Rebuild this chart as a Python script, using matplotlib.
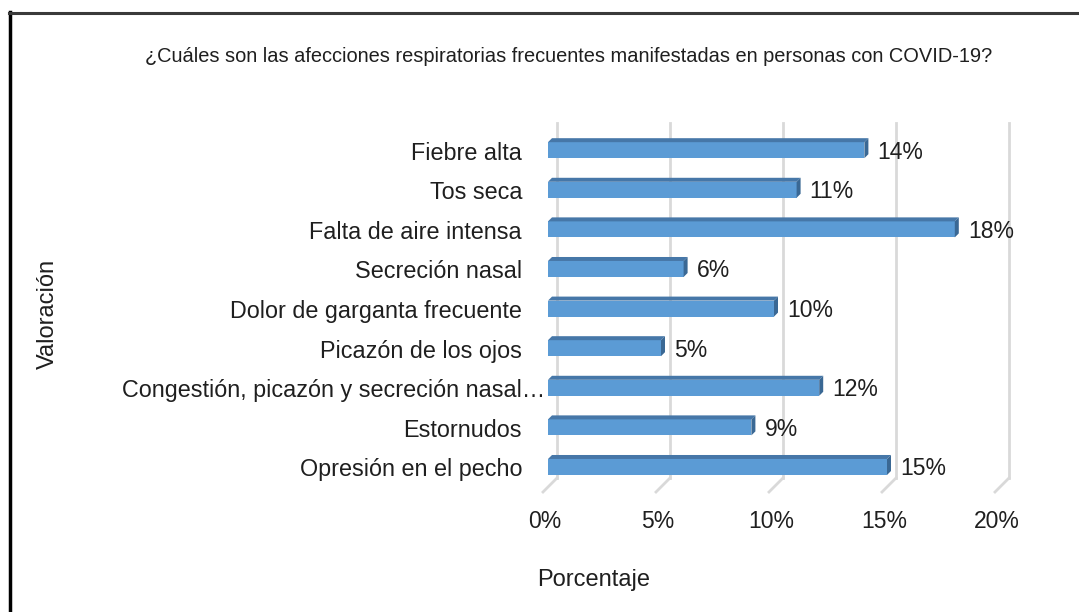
import matplotlib
matplotlib.use('Agg')
import matplotlib.pyplot as plt
from matplotlib.patches import Polygon
from matplotlib.lines import Line2D
import matplotlib.transforms as mtransforms
from matplotlib import font_manager

categories = ["Fiebre alta", "Tos seca", "Falta de aire intensa", "Secreción nasal",
              "Dolor de garganta frecuente", "Picazón de los ojos",
              "Congestión, picazón y secreción nasal…", "Estornudos",
              "Opresión en el pecho"]
values = [14, 11, 18, 6, 10, 5, 12, 9, 15]
ticks = [0, 5, 10, 15, 20]
tick_labels = ['0%', '5%', '10%', '15%', '20%']
title = "¿Cuáles son las afecciones respiratorias frecuentes manifestadas en personas con COVID-19?"
xlabel = "Porcentaje"
ylabel = "Valoración"

names = {f.name for f in font_manager.fontManager.ttflist}
NARROW = 'Liberation Sans Narrow' if 'Liberation Sans Narrow' in names else None
BASE = 'Liberation Sans'

W, H = 1079, 612
DPI = 100
fig = plt.figure(figsize=(W / DPI, H / DPI), dpi=DPI)

# layout (pixels)
x_left_px, x_right_px = 548, 1000
PX_Y = 39.6
y0_px = 149
ylim_top, ylim_bot = -1.0, 9.0
top_px = y0_px + PX_Y * ylim_top
bot_px = y0_px + PX_Y * ylim_bot
ax = fig.add_axes([x_left_px / W, 1 - bot_px / H,
                   (x_right_px - x_left_px) / W, (bot_px - top_px) / H])
ax.set_xlim(ticks[0], ticks[-1])
ax.set_ylim(ylim_bot, ylim_top)
ax.axis('off')
PX_X = (x_right_px - x_left_px) / (ticks[-1] - ticks[0])

def off(dx_px, dy_px=0):
    return ax.transData + mtransforms.ScaledTranslation(dx_px / DPI, -dy_px / DPI, fig.dpi_scale_trans)

# gridlines (back wall) + floor diagonals
g_top = (123 - y0_px) / PX_Y
g_bot = (478 - y0_px) / PX_Y
gtrans = off(9)
grid_c = '#d9d9d9'
for t in ticks:
    ax.plot([t, t], [g_top, g_bot], color=grid_c, lw=2, transform=gtrans, clip_on=False, zorder=1)
    ax.plot([t, t - 14 / PX_X], [g_bot, g_bot + 14 / PX_Y], color=grid_c, lw=2,
            transform=gtrans, clip_on=False, zorder=1)

# 3D bars
face_c = '#5B9BD5'
top_c = '#4677A8'
side_c = '#3A6894'
bh = 16 / PX_Y
dx = 4 / PX_X
dy = 4 / PX_Y
ypos = [i + 0.03 for i in range(len(categories))]
ax.barh(ypos, values, height=bh, color=face_c, zorder=3, linewidth=0)
TXT = '#1f1f1f'
for y, v in zip(ypos, values):
    top = y - bh / 2
    bot = y + bh / 2
    ax.add_patch(Polygon([(0, top), (dx, top - dy), (v + dx, top - dy), (v, top)],
                         closed=True, facecolor=top_c, edgecolor='none', zorder=3))
    ax.add_patch(Polygon([(v, top), (v + dx, top - dy), (v + dx, bot - dy), (v, bot)],
                         closed=True, facecolor=side_c, edgecolor='none', zorder=3))
    ax.text(v, y, f'{v}%', transform=off(13, 2), ha='left', va='center',
            fontsize=16.5, family=BASE, color=TXT, zorder=4)

# category labels (truncated label overhangs to the right, as in the original)
for y, c in zip(ypos, categories):
    shift = -3 if c.endswith('…') else -26
    ax.text(0, y, c, transform=off(shift, 3), ha='right', va='center',
            fontsize=16.8, family=BASE, color=TXT)

# tick labels
ty = (520 - y0_px) / PX_Y
for t, lab in zip(ticks, tick_labels):
    ax.text(t, ty, lab, transform=off(-3, 2), ha='center', va='center',
            fontsize=16.5, family=BASE, color=TXT)

# titles
tfam = NARROW or BASE
tsz = 13 if NARROW else 14.4
fig.text(569 / W, 1 - 57 / H, title, ha='center', va='center',
         fontsize=tsz, family=tfam, color=TXT)
fig.text(594 / W, 1 - 580 / H, xlabel, ha='center', va='center',
         fontsize=20 if NARROW else 17, family=tfam, color=TXT)
fig.text(48 / W, 1 - 314 / H, ylabel, ha='center', va='center', rotation=90,
         fontsize=20 if NARROW else 17, family=tfam, color=TXT)

# frame lines
fig.add_artist(Line2D([10 / W, 10 / W], [0, 1 - 12 / H], transform=fig.transFigure,
                      color='black', lw=2.5))
fig.add_artist(Line2D([9 / W, 1], [1 - 13 / H, 1 - 13 / H], transform=fig.transFigure,
                      color='#3a3a3a', lw=2.2))

fig.savefig('out.png', dpi=DPI, facecolor='white')
